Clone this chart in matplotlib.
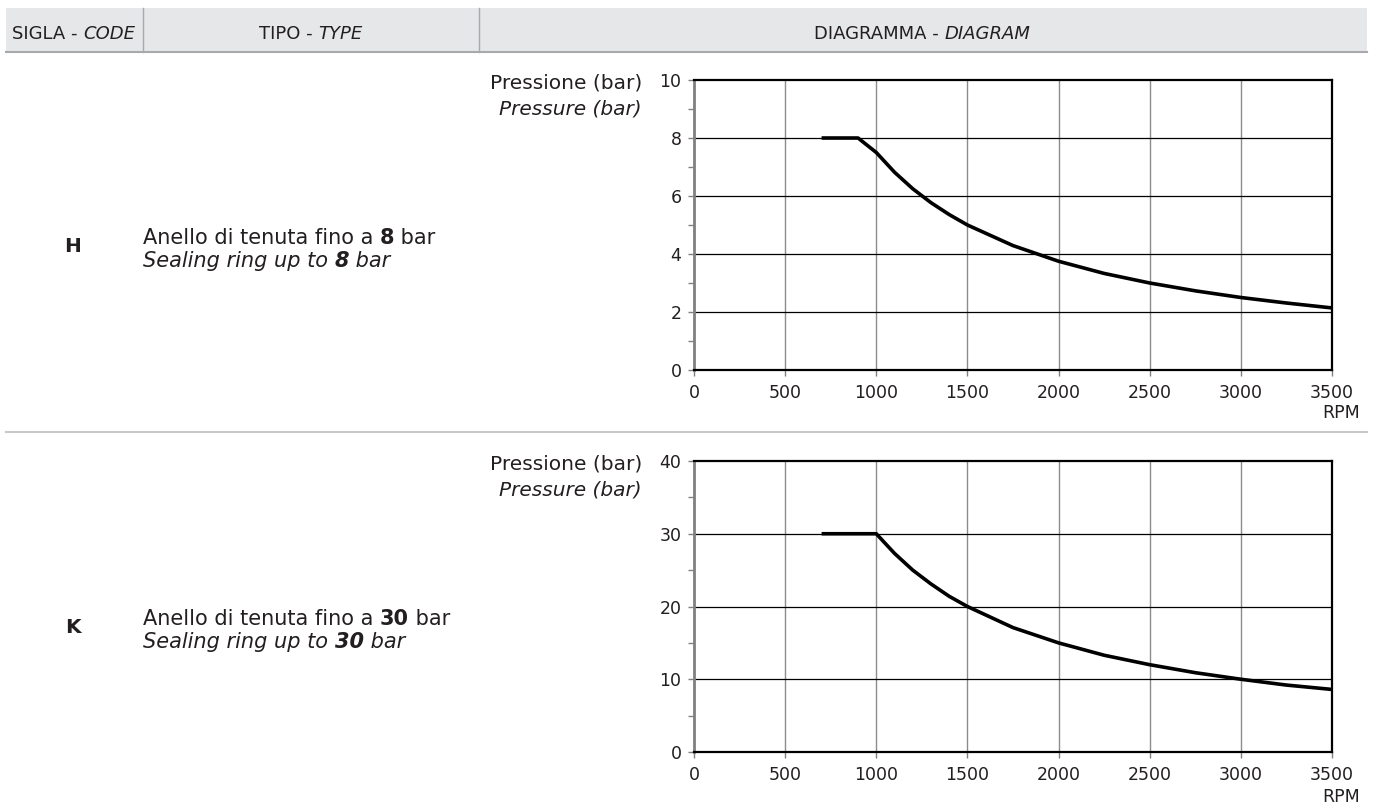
import matplotlib
matplotlib.use('Agg')
import matplotlib.pyplot as plt
from matplotlib.patches import Rectangle
from matplotlib.lines import Line2D
from matplotlib.ticker import MultipleLocator

W, H = 1376, 805

# ---- data ----
rpm_h = [700, 900, 1000, 1100, 1200, 1300, 1400, 1500, 1750, 2000, 2250, 2500, 2750, 3000, 3250, 3500]
p_h = [8, 8, 7.5, 6.82, 6.25, 5.77, 5.36, 5.0, 4.29, 3.75, 3.33, 3.0, 2.73, 2.5, 2.31, 2.14]
rpm_k = [700, 1000, 1100, 1200, 1300, 1400, 1500, 1750, 2000, 2250, 2500, 2750, 3000, 3250, 3500]
p_k = [30, 30, 27.3, 25.0, 23.1, 21.4, 20.0, 17.1, 15.0, 13.3, 12.0, 10.9, 10.0, 9.2, 8.6]
x_ticks = [0, 500, 1000, 1500, 2000, 2500, 3000, 3500]
y_ticks_h = [0, 2, 4, 6, 8, 10]
y_ticks_k = [0, 10, 20, 30, 40]
headers = [("SIGLA - ", "CODE"), ("TIPO - ", "TYPE"), ("DIAGRAMMA - ", "DIAGRAM")]
codes = ["H", "K"]
limits = ["8", "30"]

plt.rcParams['font.family'] = ['DejaVu Sans']
fig = plt.figure(figsize=(W / 100, H / 100), dpi=100)
renderer = fig.canvas.get_renderer()
TXT = '#231f20'


def fx(x):
    return x / W


def fy(y):
    return 1 - y / H


def width_of(s, **kw):
    t = fig.text(0, 0, s + "|", **kw)
    t2 = fig.text(0, 0, "|", **kw)
    w = t.get_window_extent(renderer).width - t2.get_window_extent(renderer).width
    t.remove(); t2.remove()
    return w


def rich(x, y, parts, size, ha='left', va='center'):
    kws = [dict(fontsize=size, fontweight=wt, fontstyle=st, color=TXT) for s, wt, st in parts]
    widths = [width_of(p[0], **k) for p, k in zip(parts, kws)]
    total = sum(widths)
    if ha == 'center':
        x = x - total / 2
    elif ha == 'right':
        x = x - total
    # vertical centring based on cap height of first part
    cx = x
    for (s, wt, st), k, w in zip(parts, kws, widths):
        fig.text(fx(cx), fy(y), s, va='baseline', ha='left', **k)
        cx += w


def cap_baseline(yc, size):
    # baseline y (pixels from top) so that capital letters are centred on yc
    cap = 0.73 * size * 100 / 72
    return yc + cap / 2


# ---- header ----
fig.patches.append(Rectangle((fx(6), fy(52)), fx(1367) - fx(6), fy(8) - fy(52),
                             transform=fig.transFigure, facecolor='#e6e7e8', edgecolor='none'))
fig.lines.append(Line2D([fx(6), fx(1367)], [fy(52), fy(52)], transform=fig.transFigure,
                        color='#a7a9ac', lw=1.5))
for xs in (143, 479):
    fig.lines.append(Line2D([fx(xs), fx(xs)], [fy(8), fy(52)], transform=fig.transFigure,
                            color='#a7a9ac', lw=1))
hb = cap_baseline(32, 13)
rich(12, hb, [(headers[0][0], 'normal', 'normal'), (headers[0][1], 'normal', 'italic')], 13)
rich(311, hb, [(headers[1][0], 'normal', 'normal'), (headers[1][1], 'normal', 'italic')], 13, ha='center')
rich(922, hb, [(headers[2][0], 'normal', 'normal'), (headers[2][1], 'normal', 'italic')], 13, ha='center')

# separator between rows
fig.lines.append(Line2D([fx(6), fx(1367)], [fy(432), fy(432)], transform=fig.transFigure,
                        color='#c7c8ca', lw=1.5))

# ---- rows ----
AX_L, AX_R = 694, 1332
row_specs = [
    (codes[0], limits[0], 0, 80, 370, rpm_h, p_h, y_ticks_h, 1, 413),
    (codes[1], limits[1], 381, 461, 752, rpm_k, p_k, y_ticks_k, 5, 797),
]

for code, lim, dy, top, bot, xs, ys, yt, minor, rpm_y in row_specs:
    fig.text(fx(73), fy(cap_baseline(245 + dy, 14.5)), code, fontsize=14.5, fontweight='bold',
             ha='center', va='baseline', color=TXT)
    rich(143, cap_baseline(236 + dy, 15), [("Anello di tenuta fino a ", 'normal', 'normal'),
                                          (lim, 'bold', 'normal'), (" bar", 'normal', 'normal')], 15)
    rich(143, cap_baseline(259 + dy, 15), [("Sealing ring up to ", 'normal', 'italic'),
                                          (lim, 'bold', 'italic'), (" bar", 'normal', 'italic')], 15)
    rich(642, cap_baseline(81 + dy, 14.5), [("Pressione (bar)", 'normal', 'normal')], 14.5, ha='right')
    rich(642, cap_baseline(107 + dy, 14.5), [("Pressure (bar)", 'normal', 'italic')], 14.5, ha='right')

    ax = fig.add_axes([fx(AX_L), fy(bot), fx(AX_R) - fx(AX_L), fy(top) - fy(bot)])
    ax.set_xlim(0, 3500)
    ax.set_ylim(yt[0], yt[-1])
    ax.set_xticks(x_ticks)
    ax.set_yticks(yt)
    ax.yaxis.set_minor_locator(MultipleLocator(minor))
    ax.tick_params(axis='both', which='major', labelsize=12.5, labelcolor=TXT, length=4, width=1)
    ax.tick_params(axis='y', which='major', color='#808080', pad=5)
    ax.tick_params(axis='y', which='minor', length=4, width=1, color='#808080')
    ax.tick_params(axis='x', which='major', color='#808080', length=4, pad=6)
    for xv in x_ticks[1:-1]:
        ax.axvline(xv, color='#8c8c8c', lw=1, zorder=1)
    for yv in yt[1:-1]:
        ax.axhline(yv, color='#000000', lw=0.9, zorder=1)
    ax.spines['left'].set_color('#808080')
    ax.spines['left'].set_linewidth(2)
    for s in ('top', 'right', 'bottom'):
        ax.spines[s].set_color('#000000')
        ax.spines[s].set_linewidth(1.6)
    ax.plot(xs, ys, color='#000000', lw=2.6, solid_capstyle='butt', zorder=3)
    fig.text(fx(1360), fy(rpm_y), "RPM", fontsize=12.5, ha='right', va='center', color=TXT)

fig.savefig('out.png', dpi=100)
